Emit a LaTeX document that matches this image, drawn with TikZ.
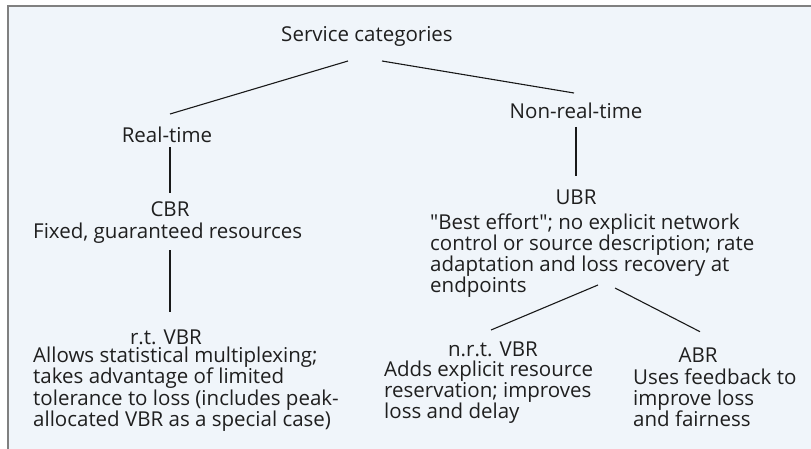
\documentclass[tikz,border=0pt]{standalone}
\usepackage{fontspec}
\setmainfont{Open Sans}[Ligatures=TeXOff]
\usetikzlibrary{calc}
\definecolor{panel}{RGB}{240,245,250}
\definecolor{frame}{RGB}{128,128,128}
\begin{document}
\begin{tikzpicture}[
  x=1pt, y=-1pt,
  every node/.style={inner sep=0pt, text=black!88,
    font=\fontsize{20.5}{21.3}\selectfont},
  head/.style={anchor=base},
  desc/.style={anchor=base west, align=left},
  link/.style={draw=black!90, line width=1.1pt}
]
  % panel with frame on top and left
  \useasboundingbox (0,0) rectangle (811,449);
  \fill[panel] (7,6) rectangle (811,449);
  \draw[frame, line width=2pt] (7.5,449) -- (7.5,6.5) -- (811,6.5);

  % tree headings
  \node[head] (svc)    at (367,42)    {Service categories};
  \node[head] (rt)     at (167,143)   {Real-time};
  \node[head] (nrt)    at (576,119)   {Non-real-time};
  \node[head] (cbr)    at (170,216.5) {CBR};
  \node[head] (rtvbr)  at (166,344)   {r.t. VBR};
  \node[head] (ubr)    at (576,205)   {UBR};
  \node[head] (nrtvbr) at (493,356)   {n.r.t. VBR};
  \node[head] (abr)    at (698,362.7) {ABR};

  % descriptions (base = last line)
  \node[desc] (cbrtxt)    at (33,238)    {Fixed, guaranteed resources};
  \node[desc] (rtvbrtxt)  at (33,426.4)  {Allows statistical multiplexing;\\
    takes advantage of limited\\
    tolerance to loss (includes peak-\\
    allocated VBR as a special case)};
  \node[desc] (ubrtxt)    at (430,292.9) {"Best effort"; no explicit network\\
    control or source description; rate\\
    adaptation and loss recovery at\\
    endpoints};
  \node[desc] (nrtvbrtxt) at (384,418.8) {Adds explicit resource\\
    reservation; improves\\
    loss and delay};
  \node[desc] (abrtxt)    at (633,426.9) {Uses feedback to\\
    improve loss\\
    and fairness};

  % connectors
  \draw[link] ($(svc.base)+(-19,19)$) -- ($(rt.base)+(3,-29)$);
  \draw[link] ($(svc.base)+(15,19)$) -- ($(nrt.base)+(-2,-26)$);
  \draw[link] ($(rt.base)+(3,4)$) -- ($(cbr.base)+(0,-23.5)$);
  \draw[link] ($(cbr.base)+(0,33.5)$) -- ($(rtvbr.base)+(4,-32)$);
  \draw[link] ($(nrt.base)+(0,8)$) -- ($(ubr.base)+(0,-29)$);
  \draw[link] ($(ubr.base)+(22,80)$) -- ($(nrtvbr.base)+(-2,-26)$);
  \draw[link] ($(ubr.base)+(39,83)$) -- ($(abr.base)+(2,-31)$);
\end{tikzpicture}
\end{document}
